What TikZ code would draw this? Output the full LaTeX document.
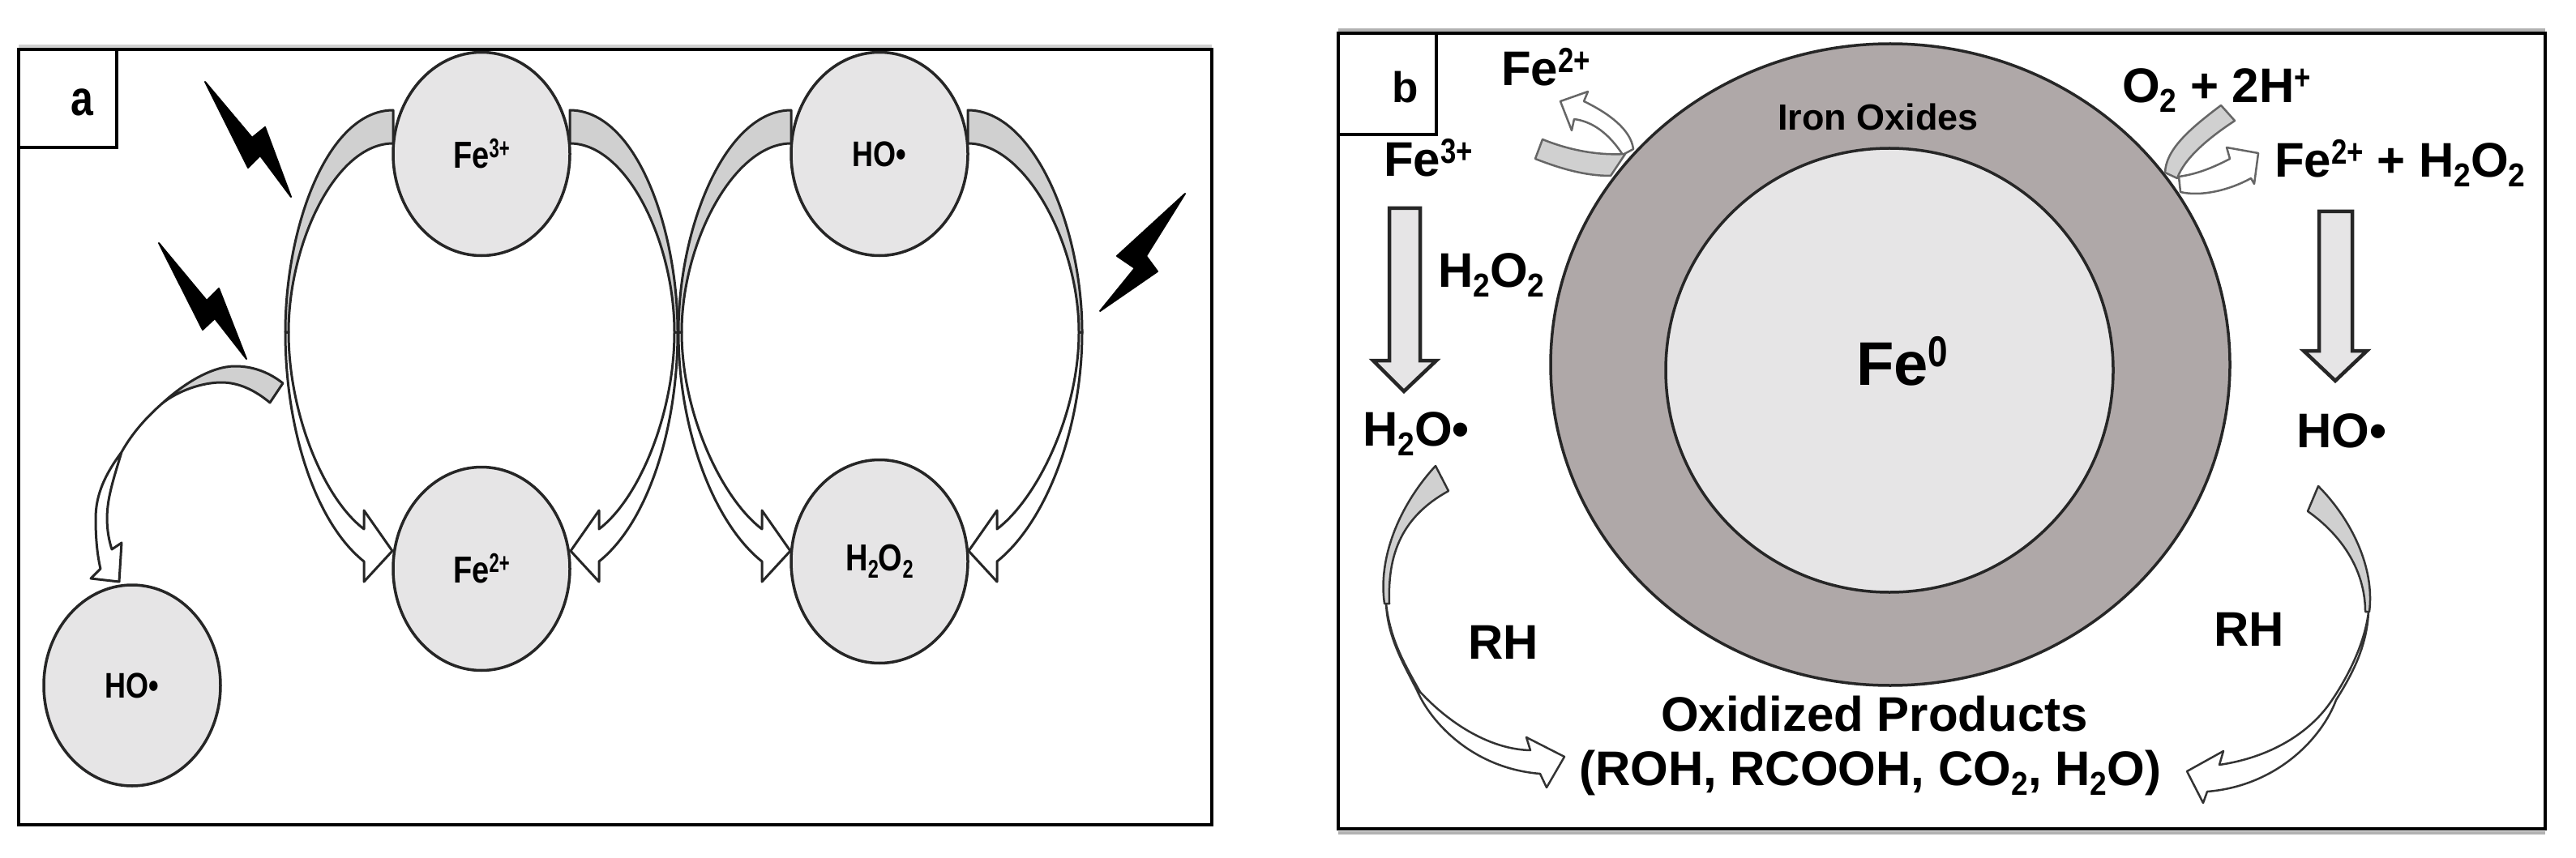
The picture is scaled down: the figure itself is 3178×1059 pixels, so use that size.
\documentclass[tikz,border=0pt]{standalone}
\usepackage{fontspec}
\setmainfont{Liberation Sans}[BoldFont={Liberation Sans Bold}]
\usetikzlibrary{shapes.geometric}
\definecolor{lightdisc}{HTML}{E6E5E6}
\definecolor{shell}{HTML}{AFA8A8}
\definecolor{bandgray}{HTML}{D0D0D0}
\definecolor{inkline}{HTML}{262626}
\newcommand\sbs[1]{\raisebox{-.2em}{\scalebox{.62}[.68]{#1}}}
\newcommand\sps[1]{\raisebox{.28em}{\scalebox{.58}[.72]{#1}}}
\newcommand\fsz[1]{\fontsize{#1}{#1}\selectfont\bfseries}
\newcommand\tallt[1]{\scalebox{1}[1.22]{#1}}
\tikzset{
  panel/.style={draw=black,line width=4pt,fill=white},
  halo/.style={line width=4pt},
  tagbox/.style={draw=black,line width=3.5pt,fill=white},
  disc/.style={ellipse,draw=inkline,line width=3.5pt,fill=lightdisc,inner sep=0pt,outer sep=0pt,minimum width=218pt,minimum height=251pt,font=\fsz{36}},
  lab/.style={anchor=base west,inner sep=0pt,outer sep=0pt,font=\fsz{60}},
  bandpart/.style={draw=inkline,line width=3pt,fill=bandgray,line join=round},
  headpart/.style={draw=inkline,line width=3pt,fill=white,line join=round},
  thinband/.style={draw=black!60,line width=2.5pt,fill=bandgray,line join=round},
  thinhead/.style={draw=black!60,line width=2.5pt,fill=white,line join=round},
  longband/.style={draw=black!80,line width=2.5pt,fill=bandgray,line join=round},
  longhead/.style={draw=black!80,line width=2.5pt,fill=white,line join=round},
  blockarrow/.style={draw=inkline,line width=4.5pt,fill=lightdisc,line join=miter},
  bolt/.style={fill=black,draw=black,line width=2pt,line join=round}
}
% #1 centre node, #2 side (+1/-1), #3 waist distance from the centre
\newcommand\bowarrow[3]{%
  \begin{scope}[shift={(#1)},xscale=#2]
    \draw[headpart] (-#3,220) .. controls (-#3,340) and (-205,455) .. (-145,503)
       -- (-145,528) -- (-110,490) -- (-145,440) -- (-145,463)
       .. controls (-195,425) and (-#3+4,320) .. (-#3+4,220) -- cycle;
    \draw[bandpart] (-109,-54) .. controls (-190,-54) and (-#3,90) .. (-#3,220)
       -- (-#3+4,220) .. controls (-#3+4,110) and (-180,-13) .. (-109,-13) -- cycle;
  \end{scope}}
\begin{document}
\begin{tikzpicture}[x=1pt,y=-1pt]
\useasboundingbox (0,0) rectangle (3178,1059);
\fill[white] (0,0) rectangle (3178,1059);

% ---------- panel a ----------
\draw[halo,draw=black!18] (23,57) -- (1495,57);
\draw[panel] (23,61) rectangle (1495,1018);
\draw[tagbox] (23,61) rectangle (144,182);
\node[lab,font=\fsz{50}] (taga) at (87,143) {\tallt{a}};

\node[disc,font=\fsz{38}] (fe3) at (594,190) {\tallt{Fe\sps{3+}}};
\node[disc,font=\fsz{38}] (fe2) at (594,702) {\tallt{Fe\sps{2+}}};
\node[disc] (hotop) at (1085,190) {\tallt{HO•}};
\node[disc,font=\fsz{38}] (h2o2) at (1085,693) {\tallt{H\sbs{2}O\sbs{2}}};
\node[disc,minimum height=248pt] (holow) at (163,846) {\tallt{HO•}};

\bowarrow{fe3.center}{1}{242}
\bowarrow{fe3.center}{-1}{242}
\bowarrow{hotop.center}{1}{248}
\bowarrow{hotop.center}{-1}{250}

% branch from the left loop down to the lower HO disc
\draw[headpart] (200,498) .. controls (175,520) and (160,540) .. (150,558)
   .. controls (130,585) and (118,610) .. (118,640)
   .. controls (118,665) and (120,685) .. (124,702) -- (112,714) -- (147,718)
   -- (150,670) -- (138,678) .. controls (132,660) and (131,640) .. (133,625)
   .. controls (135,605) and (145,575) .. (150,558)
   .. controls (160,540) and (175,520) .. (200,498) -- cycle;
\draw[bandpart] (349,473) .. controls (330,458) and (310,452) .. (290,452)
   .. controls (260,452) and (225,475) .. (200,498)
   .. controls (220,482) and (250,472) .. (273,472)
   .. controls (295,472) and (315,482) .. (333,497) -- cycle;

% lightning bolts
\fill[bolt] (253,101) -- (311,170) -- (327,157) -- (359,243) -- (321,192) -- (306,207) -- cycle;
\fill[bolt] (196,300) -- (255,371) -- (270,356) -- (304,443) -- (265,393) -- (250,407) -- cycle;
\fill[bolt] (1462,239) -- (1378,316) -- (1400,331) -- (1357,384) -- (1428,335) -- (1414,316) -- cycle;

% ---------- panel b ----------
\draw[halo,draw=black!30] (1651,37) -- (3140,37);
\draw[halo,draw=black!30] (1651,1028) -- (3140,1028);
\draw[panel] (1651,41) rectangle (3140,1023);
\draw[tagbox] (1651,41) rectangle (1772,166);
\node[lab,font=\fsz{53}] (tagb) at (1717,127) {b};

\node[ellipse,draw=inkline,line width=3.5pt,fill=shell,inner sep=0pt,outer sep=0pt,minimum width=838pt,minimum height=792pt] (oxide) at (2332,450) {};
\node[ellipse,draw=inkline,line width=3.5pt,fill=lightdisc,inner sep=0pt,outer sep=0pt,minimum width=552pt,minimum height=548pt] (core) at (2331,457) {};
\node[lab,font=\fsz{45}] (ironlab) at (2193,161) {Iron Oxides};
\node[lab,font=\fsz{76}] (fezero) at (2290,475) {Fe\raisebox{.3em}{\scalebox{.58}[.7]{0}}};

\node[lab] (fetwo) at (1852,106) {Fe\sps{2+}};
\node[lab] (fethree) at (1707,218) {Fe\sps{3+}};
\node[lab] (peroxl) at (1774,354) {H\sbs{2}O\sbs{2}};
\node[lab] (waterrad) at (1681,550) {H\sbs{2}O•};
\node[lab] (oxyg) at (2618,127) {O\sbs{2} + 2H\sps{+}};
\node[lab] (feperox) at (2806,219) {Fe\sps{2+} + H\sbs{2}O\sbs{2}};
\node[lab] (hob) at (2833,552) {HO•};
\node[lab] (rhl) at (1811,813) {RH};
\node[lab] (rhr) at (2731,797) {RH};
\node[lab] (oxprod) at (2049,902) {Oxidized Products};
\node[lab] (prodlist) at (1948,969) {(ROH, RCOOH, CO\sbs{2}, H\sbs{2}O)};

% straight block arrows
\draw[blockarrow] (1714,257) -- (1752,257) -- (1752,445) -- (1772,445) -- (1732,483) -- (1694,445) -- (1714,445) -- cycle;
\draw[blockarrow] (2861,261) -- (2902,261) -- (2902,433) -- (2920,433) -- (2881,470) -- (2842,433) -- (2861,433) -- cycle;

% small arrow, upper left of the shell
\draw[thinhead] (2002,191) .. controls (1985,165) and (1965,150) .. (1942,147)
   -- (1939,161) -- (1925,125) -- (1959,113) -- (1954,125)
   .. controls (1985,140) and (2012,160) .. (2015,184) -- cycle;
\draw[thinband] (1903,172) .. controls (1935,185) and (1970,192) .. (2005,190)
   -- (1987,217) .. controls (1955,217) and (1925,208) .. (1894,196) -- cycle;

% small arrow, upper right of the shell
\draw[thinhead] (2688,218) .. controls (2710,215) and (2730,207) .. (2751,196)
   -- (2747,182) -- (2786,189) -- (2781,227) -- (2777,220)
   .. controls (2750,235) and (2715,243) .. (2690,237) -- cycle;
\draw[thinband] (2740,130) .. controls (2700,160) and (2672,185) .. (2671,213)
   -- (2686,220) .. controls (2695,195) and (2725,170) .. (2757,149) -- cycle;

% long arrow from H2O radical to the products
\draw[longhead] (1710,745) .. controls (1712,790) and (1735,825) .. (1749,854)
   .. controls (1765,890) and (1815,948) .. (1900,955) -- (1908,972) -- (1930,934)
   -- (1883,910) -- (1888,926) .. controls (1840,925) and (1790,895) .. (1752,854)
   .. controls (1733,820) and (1715,790) .. (1710,745) -- cycle;
\draw[longband] (1771,575) .. controls (1725,625) and (1700,690) .. (1708,745)
   -- (1714,745) .. controls (1712,690) and (1725,640) .. (1787,606) -- cycle;

% long arrow from HO radical to the products
\draw[longhead] (2922,755) .. controls (2920,800) and (2900,835) .. (2882,864)
   .. controls (2865,910) and (2810,970) .. (2723,977) -- (2718,991) -- (2698,952)
   -- (2743,927) -- (2738,944) .. controls (2800,935) and (2850,905) .. (2877,864)
   .. controls (2900,830) and (2918,790) .. (2922,755) -- cycle;
\draw[longband] (2860,600) .. controls (2900,640) and (2930,700) .. (2923,755)
   -- (2918,755) .. controls (2918,710) and (2895,665) .. (2847,631) -- cycle;
\end{tikzpicture}
\end{document}
